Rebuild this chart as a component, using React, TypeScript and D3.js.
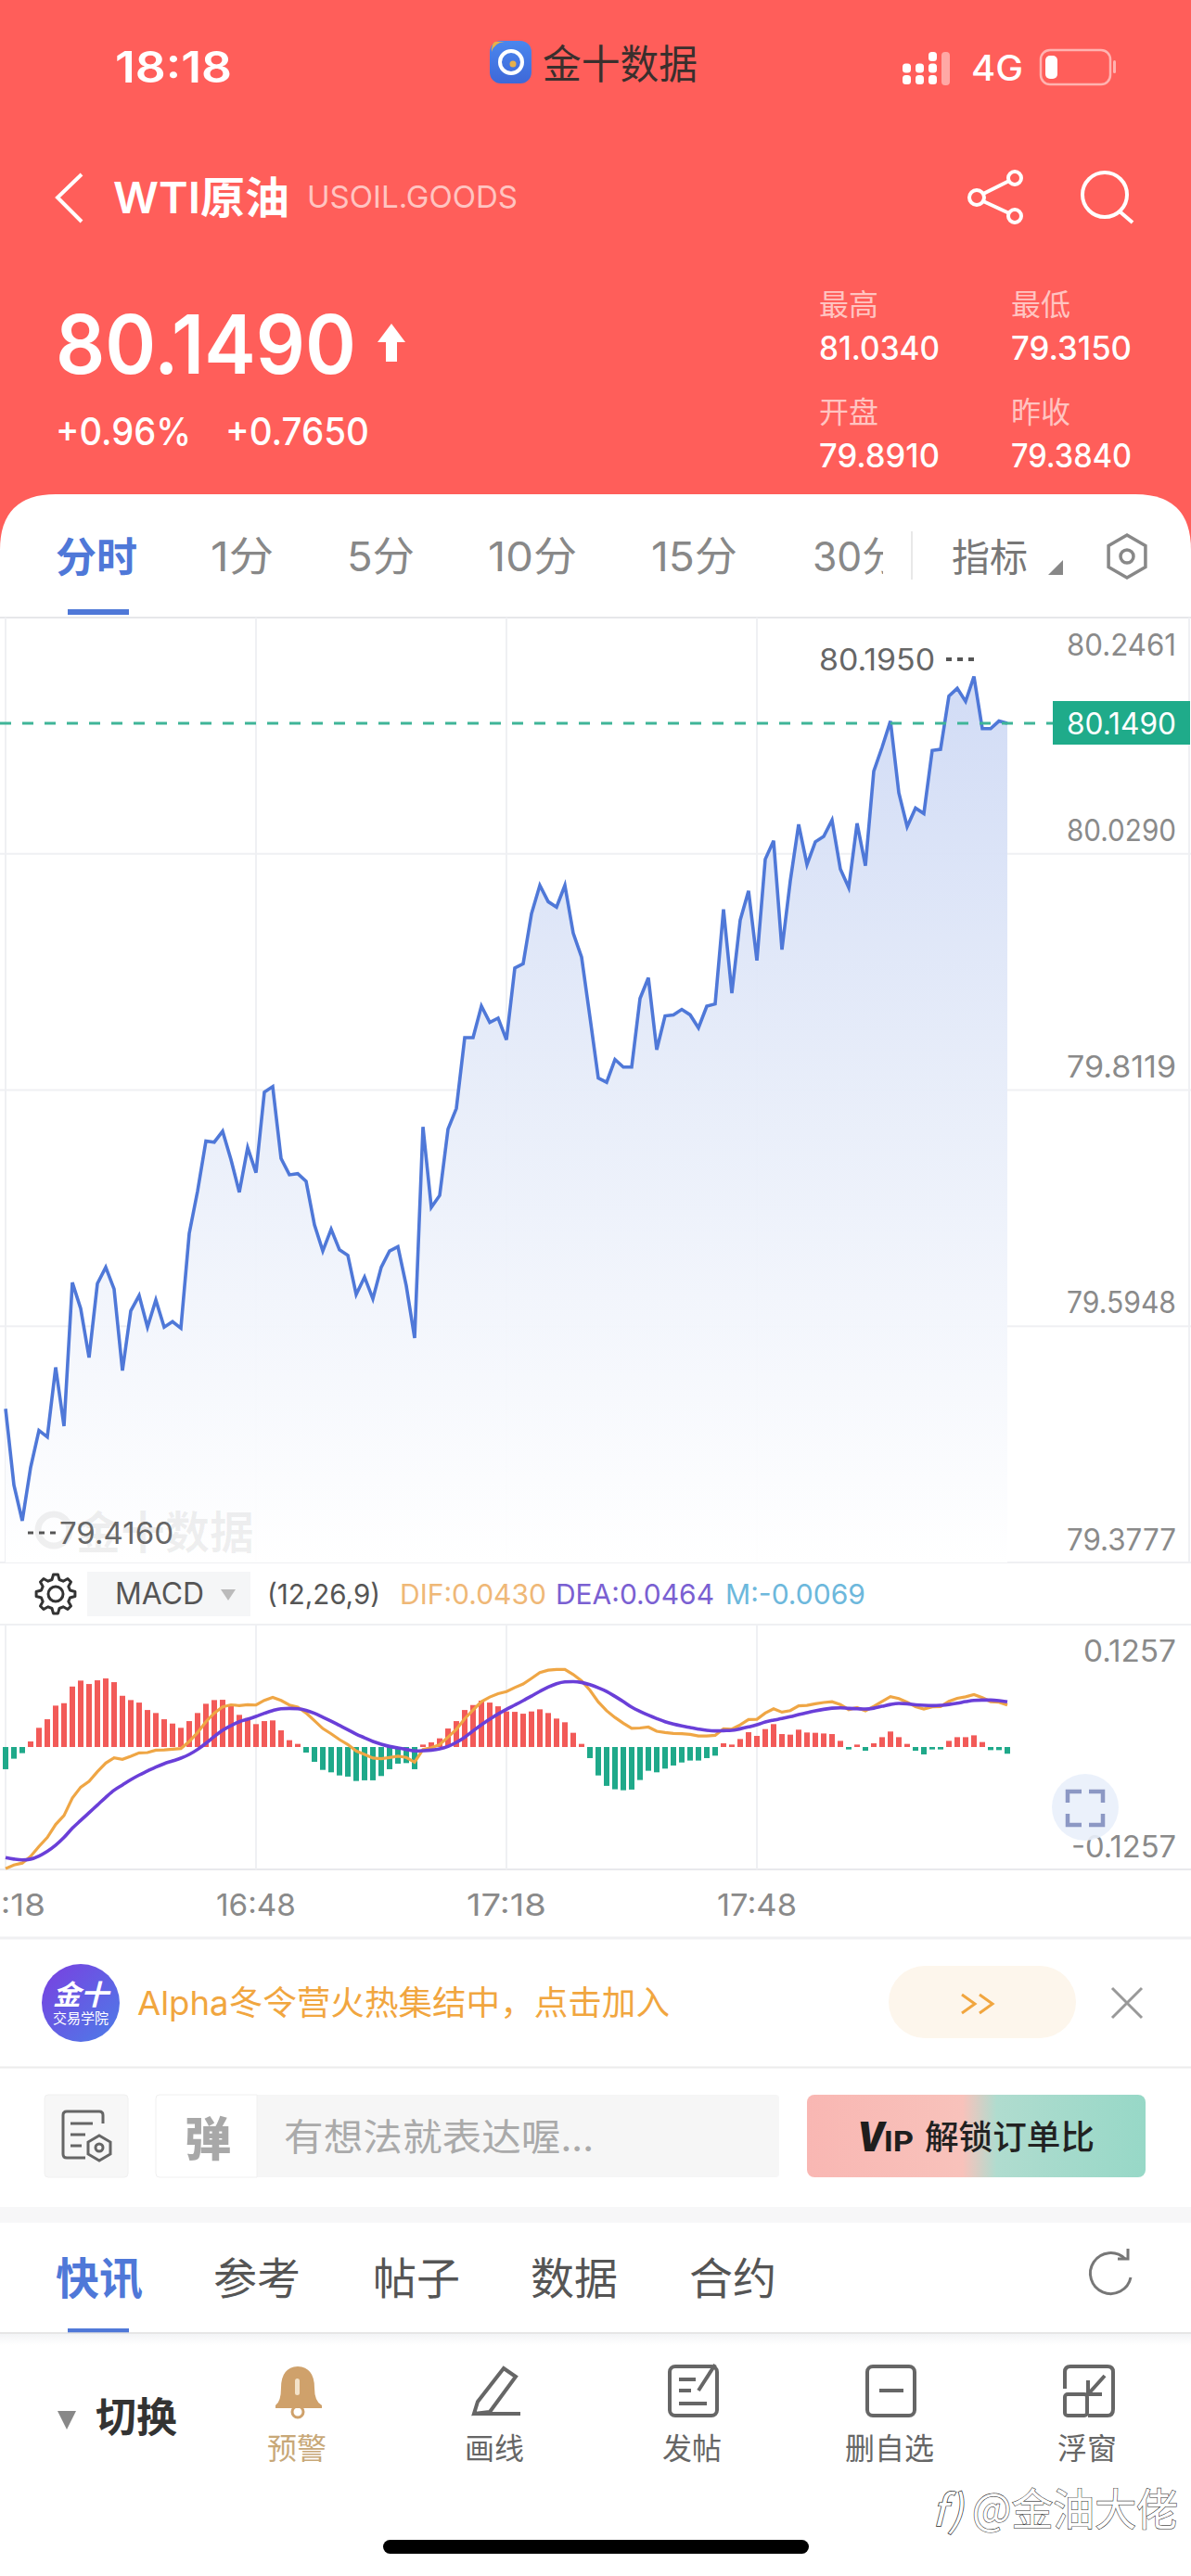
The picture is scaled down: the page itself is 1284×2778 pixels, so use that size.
import React from "react";
import * as d3 from "d3";

const priceTicks = [80.2461, 80.029, 79.8119, 79.5948, 79.3777];
const timeTicks = ["16:18", "16:48", "17:18", "17:48"];
const timeIdx = [0, 30, 60, 90];
const lastPrice = 80.149;
const highLabel = { i: 116, v: "80.1950" };
const lowLabel = { i: 2, v: "79.4160" };

const prices = [
  79.519, 79.449, 79.416, 79.465, 79.499, 79.493, 79.557, 79.503, 79.635, 79.611,
  79.566, 79.634, 79.649, 79.629, 79.554, 79.609, 79.623, 79.594, 79.619, 79.594,
  79.599, 79.593, 79.68, 79.719, 79.765, 79.764, 79.774, 79.748, 79.718, 79.759,
  79.736, 79.81, 79.815, 79.749, 79.734, 79.735, 79.728, 79.688, 79.664, 79.684,
  79.665, 79.66, 79.624, 79.64, 79.62, 79.649, 79.664, 79.668, 79.632, 79.584,
  79.778, 79.704, 79.715, 79.776, 79.795, 79.86, 79.86, 79.889, 79.874, 79.878,
  79.858, 79.924, 79.928, 79.974, 80.0, 79.985, 79.98, 80.0, 79.956, 79.934,
  79.879, 79.823, 79.819, 79.84, 79.833, 79.833, 79.896, 79.915, 79.849, 79.88,
  79.881, 79.886, 79.881, 79.869, 79.889, 79.891, 79.978, 79.901, 79.968, 79.995,
  79.931, 80.024, 80.041, 79.941, 80.004, 80.056, 80.019, 80.04, 80.045, 80.06,
  80.015, 79.998, 80.057, 80.018, 80.105, 80.127, 80.151, 80.085, 80.054, 80.071,
  80.066, 80.124, 80.125, 80.174, 80.181, 80.169, 80.192, 80.144, 80.144, 80.151,
  80.149,
];

const macd = [
  -0.0228, -0.012, -0.0063, 0.0057, 0.0197, 0.0285, 0.0425, 0.045, 0.0621, 0.0682,
  0.0647, 0.0685, 0.0704, 0.0666, 0.0526, 0.0482, 0.0456, 0.038, 0.0349, 0.0285,
  0.0241, 0.0197, 0.0266, 0.0349, 0.0444, 0.0482, 0.0485, 0.0428, 0.033, 0.0298,
  0.0235, 0.0266, 0.0273, 0.0171, 0.007, 0.0032, -0.0057, -0.0152, -0.0235, -0.026,
  -0.0292, -0.0304, -0.0349, -0.0342, -0.0342, -0.0298, -0.0228, -0.0171, -0.0165, -0.0228,
  0.0025, 0.0048, 0.0089, 0.019, 0.0266, 0.038, 0.0431, 0.0476, 0.0456, 0.0418,
  0.0365, 0.0361, 0.0342, 0.0365, 0.0387, 0.0349, 0.0292, 0.0254, 0.0146, 0.0032,
  -0.0114, -0.0292, -0.0399, -0.0434, -0.0444, -0.0437, -0.0339, -0.0244, -0.026, -0.0222,
  -0.019, -0.0159, -0.0139, -0.0139, -0.0114, -0.0089, 0.0038, 0.0025, 0.0082, 0.0152,
  0.0114, 0.0184, 0.0235, 0.0133, 0.0127, 0.0178, 0.0149, 0.0146, 0.0139, 0.0133,
  0.0063, -0.0025, 0.0025, -0.0038, 0.0038, 0.0101, 0.0159, 0.0101, 0.0032, -0.0038,
  -0.0076, -0.0025, -0.0025, 0.0063, 0.0101, 0.0101, 0.012, 0.0051, -0.0032, -0.0032,
  -0.0069,
];

const dea = [
  -0.1135, -0.1151, -0.116, -0.1151, -0.1119, -0.1071, -0.1008, -0.0929, -0.0834, -0.0754,
  -0.0675, -0.0596, -0.0517, -0.0444, -0.039, -0.0336, -0.0288, -0.0247, -0.0206, -0.0171,
  -0.0143, -0.0114, -0.0076, -0.0025, 0.0038, 0.0108, 0.0171, 0.0219, 0.026, 0.0285,
  0.0314, 0.0346, 0.0374, 0.0393, 0.0396, 0.0393, 0.0377, 0.0346, 0.0307, 0.0266,
  0.0222, 0.0178, 0.0133, 0.0095, 0.0057, 0.0029, 0.0006, -0.001, -0.0025, -0.0041,
  -0.0038, -0.0032, -0.0019, 0.0006, 0.0048, 0.0101, 0.0165, 0.0228, 0.0285, 0.0339,
  0.0387, 0.0431, 0.0476, 0.0523, 0.0571, 0.0615, 0.065, 0.0669, 0.0672, 0.0663,
  0.064, 0.0609, 0.0571, 0.052, 0.0466, 0.0409, 0.0365, 0.0327, 0.0292, 0.026,
  0.0235, 0.0216, 0.02, 0.0184, 0.0171, 0.0165, 0.0168, 0.0171, 0.0187, 0.0206,
  0.0228, 0.0257, 0.0276, 0.0292, 0.0311, 0.0333, 0.0352, 0.0371, 0.0387, 0.0399,
  0.0403, 0.0396, 0.0393, 0.039, 0.0399, 0.0418, 0.0437, 0.0447, 0.0444, 0.0434,
  0.0428, 0.0425, 0.0428, 0.0437, 0.045, 0.0466, 0.0479, 0.0482, 0.0482, 0.0476,
  0.0464,
];

const dif = [
  -0.1249, -0.1211, -0.1192, -0.1123, -0.1021, -0.0929, -0.0796, -0.0704, -0.0524, -0.0413,
  -0.0352, -0.0254, -0.0165, -0.0111, -0.0127, -0.0095, -0.006, -0.0057, -0.0032, -0.0029,
  -0.0023, -0.0016, 0.0057, 0.0149, 0.026, 0.0349, 0.0413, 0.0433, 0.0425, 0.0434,
  0.0431, 0.0479, 0.051, 0.0478, 0.0431, 0.0409, 0.0349, 0.027, 0.019, 0.0136,
  0.0076, 0.0026, -0.0041, -0.0076, -0.0114, -0.012, -0.0108, -0.0095, -0.0107, -0.0155,
  -0.0026, -0.0008, 0.0025, 0.0101, 0.0181, 0.0291, 0.038, 0.0466, 0.0513, 0.0548,
  0.0569, 0.0611, 0.0647, 0.0705, 0.0764, 0.0789, 0.0796, 0.0796, 0.0745, 0.0679,
  0.0583, 0.0463, 0.0372, 0.0303, 0.0244, 0.0191, 0.0195, 0.0205, 0.0162, 0.0149,
  0.014, 0.0136, 0.013, 0.0114, 0.0114, 0.012, 0.0187, 0.0183, 0.0228, 0.0282,
  0.0285, 0.0349, 0.0393, 0.0358, 0.0374, 0.0422, 0.0427, 0.0444, 0.0457, 0.0465,
  0.0435, 0.0384, 0.0405, 0.0371, 0.0418, 0.0468, 0.0517, 0.0497, 0.046, 0.0415,
  0.039, 0.0413, 0.0416, 0.0469, 0.05, 0.0516, 0.0539, 0.0507, 0.0466, 0.046,
  0.043,
];

const macdLimit = 0.1257;
const stats = [
  { label: "最高", value: "81.0340", col: 0, row: 0 },
  { label: "最低", value: "79.3150", col: 1, row: 0 },
  { label: "开盘", value: "79.8910", col: 0, row: 1 },
  { label: "昨收", value: "79.3840", col: 1, row: 1 },
];
const periodTabs = [
  { t: "1分", x: 227, w: 68 },
  { t: "5分", x: 374, w: 73 },
  { t: "10分", x: 526, w: 96 },
  { t: "15分", x: 702, w: 93 },
  { t: "30分", x: 876, w: 96 },
];
const newsTabs = [
  { t: "参考", x: 230 },
  { t: "帖子", x: 402 },
  { t: "数据", x: 572 },
  { t: "合约", x: 743 },
];
const signalColumns = [2, 2, 3];

const FONT = "Inter, 'Noto Sans CJK SC', sans-serif";
const CJK = "'Noto Sans CJK SC', sans-serif";
const RED = "#ff5e5a";
const BLUE = "#4f78d8";

function T(p: any) {
  const { x, y, s, c = "#333", w, wt = 400, a = "start", f = FONT, children, ...rest } = p;
  return (
    <text x={x} y={y} fontSize={s} fill={c} fontWeight={wt} textAnchor={a} fontFamily={f}
      dominantBaseline="central"
      {...(w ? { textLength: w, lengthAdjust: "spacingAndGlyphs" } : {})} {...rest}>
      {children}
    </text>
  );
}

function gearPath(cx: number, cy: number, r0: number, r1: number, n: number) {
  const pts: string[] = [];
  for (let i = 0; i < n; i++) {
    const a = (i / n) * Math.PI * 2 - Math.PI / 2;
    const d = (Math.PI / n) * 0.5;
    [[-d * 1.3, r0], [-d * 0.6, r1], [d * 0.6, r1], [d * 1.3, r0]].forEach(([da, r]) => {
      pts.push(`${(cx + r * Math.cos(a + da)).toFixed(1)},${(cy + r * Math.sin(a + da)).toFixed(1)}`);
    });
  }
  return "M" + pts.join("L") + "Z";
}

function hexPath(cx: number, cy: number, r: number) {
  const pts: string[] = [];
  for (let i = 0; i < 6; i++) {
    const a = (i / 6) * Math.PI * 2 - Math.PI / 2;
    pts.push(`${(cx + r * Math.cos(a)).toFixed(1)},${(cy + r * Math.sin(a)).toFixed(1)}`);
  }
  return "M" + pts.join("L") + "Z";
}

export default function App() {
  const x = d3.scaleLinear().domain([0, 120]).range([6, 1086]);
  const y = d3.scaleLinear().domain([priceTicks[4], priceTicks[0]]).range([1685, 666]);
  const m = d3.scaleLinear().domain([-macdLimit, macdLimit]).range([2016, 1752]);
  const line = d3.line<number>().x((_, i) => x(i)).y((d) => y(d));
  const area = d3.area<number>().x((_, i) => x(i)).y0(1685).y1((d) => y(d));
  const difLine = d3.line<number>().x((_, i) => x(i)).y((d) => m(d));
  const deaLine = d3.line<number>().x((_, i) => x(i)).y((d) => m(d)).curve(d3.curveMonotoneX);
  const vGrid = [...timeIdx.slice(1), 0].map((i) => x(i));
  const GREY = "#8a8a8a";
  const tickOffset = [29, -25, -25, -26, -25];
  const iconC = "#666";

  return (
    <svg width={1284} height={2778} viewBox="0 0 1284 2778"
      style={{ position: "absolute", left: 0, top: 0, display: "block" }}>
      <defs>
        <linearGradient id="areaG" x1="0" y1="0" x2="0" y2="1">
          <stop offset="0" stopColor="#cfdaf5" />
          <stop offset="0.45" stopColor="#e6ecf9" />
          <stop offset="1" stopColor="#ffffff" />
        </linearGradient>
        <linearGradient id="logoG" x1="0" y1="0" x2="0" y2="1">
          <stop offset="0" stopColor="#4a86ee" />
          <stop offset="1" stopColor="#3e68d8" />
        </linearGradient>
        <linearGradient id="acadG" x1="0" y1="0" x2="1" y2="1">
          <stop offset="0" stopColor="#7a3fe0" />
          <stop offset="1" stopColor="#4c7de8" />
        </linearGradient>
        <linearGradient id="vipG" x1="0" y1="0" x2="1" y2="0">
          <stop offset="0" stopColor="#f9b7b3" />
          <stop offset="0.46" stopColor="#f8c2bb" />
          <stop offset="0.56" stopColor="#b0dccf" />
          <stop offset="1" stopColor="#97d8c7" />
        </linearGradient>
        <linearGradient id="shadowG" x1="0" y1="0" x2="0" y2="1">
          <stop offset="0" stopColor="#f3f4f6" />
          <stop offset="1" stopColor="#ffffff" />
        </linearGradient>
        <clipPath id="tabClip"><rect x="0" y="540" width="952" height="120" /></clipPath>
        <clipPath id="wmClip"><rect x="0" y="1600" width="276" height="90" /></clipPath>
      </defs>
      <rect width="1284" height="2778" fill="#fff" />

      {/* Header */}
      <rect width="1284" height="600" fill={RED} />
      <path d="M0 593 Q0 533 60 533 H1224 Q1284 533 1284 593 V640 H0Z" fill="#fff" />
      <T x={124} y={72} s={46} c="#fff" wt={600} w={126}>18:18</T>
      <rect x={528} y={44} width={45} height={46} rx={12} fill="url(#logoG)" />
      <circle cx={551} cy={67} r={12} fill="none" stroke="#fff" strokeWidth={4} />
      <circle cx={553} cy={69} r={3.5} fill="#e6b04a" />
      <path d="M530 56 Q533 46 544 45 L534 45 Q530 46 530 56Z" fill="#e6b04a" />
      <T x={585} y={66} s={43} c="#3a2f2d" f={CJK} w={167}>金十数据</T>
      {signalColumns.map((n, i) =>
        d3.range(n).map((j) => (
          <rect key={`${i}-${j}`} x={973 + i * 14} y={81 - j * 12.5} width={9} height={10} rx={3.5} fill="#fff" />
        ))
      )}
      <rect x={1015} y={56} width={9} height={36} rx={4} fill="#ffa8a5" />
      <T x={1047} y={73} s={38} c="#fff" wt={500} w={56}>4G</T>
      <rect x={1122} y={54} width={75} height={37} rx={10} fill="none" stroke="#ffb3b0" strokeWidth={2.5} />
      <rect x={1127} y={60} width={13} height={25} rx={5} fill="#fff" />
      <rect x={1200} y={65} width={3} height={14} rx={1.5} fill="#ffb3b0" />

      <path d="M88 188 L62 213 L88 239" fill="none" stroke="#fff" strokeWidth={4} />
      <T x={122} y={212} s={47} c="#fff" wt={600} w={190}>WTI原油</T>
      <T x={331} y={212} s={33} c="#ffc4c1" w={227}>USOIL.GOODS</T>
      <g fill="none" stroke="#fff" strokeWidth={4}>
        <circle cx={1053} cy={213} r={8} />
        <circle cx={1094} cy={192} r={7} />
        <circle cx={1094} cy={233} r={7} />
        <path d="M1060 209 L1088 195 M1060 217 L1088 230" />
        <circle cx={1191} cy={210} r={24} />
        <path d="M1207 228 L1221 240" strokeWidth={4} />
      </g>

      <T x={60} y={371} s={88} c="#fff" wt={600} w={324}>80.1490</T>
      <path d="M422 349 L437 369 L428 369 L428 390 L416 390 L416 369 L407 369Z" fill="#fff" />
      <T x={60} y={465} s={41} c="#fff" wt={500} w={146}>+0.96%</T>
      <T x={243} y={465} s={41} c="#fff" wt={500} w={155}>+0.7650</T>
      {stats.map((d) => {
        const sx = 883 + d.col * 207;
        const sy = 326 + d.row * 116;
        return (
          <g key={d.label}>
            <T x={sx} y={sy} s={32} c="#ffc4c1" f={CJK}>{d.label}</T>
            <T x={sx} y={sy + 49} s={35} c="#fff" w={130} wt={500}>{d.value}</T>
          </g>
        );
      })}

      {/* Period tabs */}
      <T x={60} y={598} s={44} c={BLUE} wt={700} f={CJK}>分时</T>
      <rect x={73} y={657} width={66} height={6} fill={BLUE} />
      <g clipPath="url(#tabClip)">
        {periodTabs.map((d) => (
          <T key={d.t} x={d.x} y={600} s={44} c="#888" w={d.w}>{d.t}</T>
        ))}
      </g>
      <rect x={982} y={573} width={2} height={52} fill="#e8e8e8" />
      <T x={1026} y={598} s={41} c="#777" f={CJK}>指标</T>
      <path d="M1146 604 V620 H1130Z" fill="#888" />
      <path d={hexPath(1215, 600, 23)} fill="none" stroke="#888" strokeWidth={3.5} />
      <circle cx={1215} cy={600} r={7} fill="none" stroke="#888" strokeWidth={3.5} />

      {/* Main chart */}
      <g stroke="#eff0f3" strokeWidth={2}>
        <line x1={0} x2={1284} y1={666} y2={666} stroke="#e6e7ea" />
        {priceTicks.slice(1).map((p) => (
          <line key={p} x1={0} x2={1284} y1={y(p)} y2={y(p)} />
        ))}
        {vGrid.map((v) => (
          <line key={v} x1={v} x2={v} y1={666} y2={1685} />
        ))}
        <line x1={1282} x2={1282} y1={666} y2={1685} />
      </g>
      <path d={area(prices)!} fill="url(#areaG)" opacity={0.95} />
      <g clipPath="url(#wmClip)">
        <circle cx={58} cy={1650} r={17} fill="none" stroke="#000" strokeOpacity={0.06} strokeWidth={7} />
        <T x={82} y={1649} s={48} c="#000" fillOpacity={0.06} wt={700} f={CJK}>金十数据</T>
      </g>
      <path d={line(prices)!} fill="none" stroke={BLUE} strokeWidth={3.6} strokeLinejoin="miter" />
      <line x1={0} x2={1135} y1={y(lastPrice)} y2={y(lastPrice)} stroke="#3fb598" strokeWidth={3} strokeDasharray="12 12" />
      <T x={x(highLabel.i) - 42} y={711} s={32} c="#666" a="end" w={125}>{highLabel.v}</T>
      <path d={`M${x(highLabel.i) - 30} 711 H${x(highLabel.i)}`} stroke="#555" strokeWidth={4} strokeDasharray="6 6" />
      <path d={`M${x(lowLabel.i) + 6} 1653 H${x(lowLabel.i) + 36}`} stroke="#555" strokeWidth={3} strokeDasharray="6 6" />
      <T x={x(lowLabel.i) + 40} y={1653} s={32} c="#666" w={123}>{lowLabel.v}</T>
      {priceTicks.map((p, i) => (
        <T key={p} x={1268} y={y(p) + tickOffset[i]} s={32} c={GREY} a="end" w={118}>{p.toFixed(4)}</T>
      ))}
      <rect x={1135} y={756} width={148} height={47} fill="#1fab8a" />
      <T x={1209} y={780} s={32} c="#fff" a="middle" w={118}>{lastPrice.toFixed(4)}</T>

      {/* MACD toolbar */}
      <path d={gearPath(60, 1719, 16, 21, 8)} fill="none" stroke="#333" strokeWidth={3} strokeLinejoin="round" />
      <circle cx={60} cy={1719} r={8} fill="none" stroke="#333" strokeWidth={3} />
      <rect x={94} y={1695} width={176} height={48} fill="#f5f6f7" />
      <T x={124} y={1718} s={32} c="#555" w={96}>MACD</T>
      <path d="M238 1714 H254 L246 1726Z" fill="#bbb" />
      <T x={288} y={1719} s={30} c="#555" w={122}>(12,26,9)</T>
      <T x={431} y={1719} s={30} c="#efb877" w={158}>DIF:0.0430</T>
      <T x={599} y={1719} s={30} c="#7a60d2" w={171}>DEA:0.0464</T>
      <T x={782} y={1719} s={30} c="#6db8dc" w={151}>M:-0.0069</T>

      {/* MACD panel */}
      <g stroke="#eff0f3" strokeWidth={2}>
        <line x1={0} x2={1284} y1={m(macdLimit)} y2={m(macdLimit)} />
        <line x1={0} x2={1284} y1={m(-macdLimit)} y2={m(-macdLimit)} stroke="#e8e9ec" />
        {vGrid.map((v) => (
          <line key={v} x1={v} x2={v} y1={m(macdLimit)} y2={m(-macdLimit)} />
        ))}
      </g>
      {macd.map((v, i) => (
        <rect key={i} x={x(i) - 3} width={6}
          y={Math.min(m(v), m(0))} height={Math.abs(m(v) - m(0))}
          fill={v >= 0 ? "#f25a58" : "#1fa98a"} />
      ))}
      <path d={difLine(dif)!} fill="none" stroke="#efa645" strokeWidth={3.2} />
      <path d={deaLine(dea)!} fill="none" stroke="#6a3fd8" strokeWidth={3.6} />
      <T x={1268} y={1780} s={32} c={GREY} a="end" w={100}>{macdLimit.toFixed(4)}</T>
      <T x={1268} y={1991} s={32} c={GREY} a="end" w={113}>{(-macdLimit).toFixed(4)}</T>
      <ellipse cx={1170} cy={1949} rx={36} ry={36} fill="#e9f0fb" opacity={0.9} />
      <path d="M1151 1944 V1932 H1166 M1174 1932 H1189 V1944 M1151 1956 V1968 H1166 M1174 1968 H1189 V1956"
        fill="none" stroke="#8c98c4" strokeWidth={4.5} />
      {timeTicks.map((t, i) => (
        <T key={t} x={x(timeIdx[i])} y={2054} s={33} c={GREY} a="middle" w={86}>{t}</T>
      ))}
      <line x1={0} x2={1284} y1={2090} y2={2090} stroke="#f0f0f2" strokeWidth={3} />

      {/* Banner */}
      <circle cx={87} cy={2160} r={42} fill="url(#acadG)" />
      <T x={87} y={2149} s={30} c="#fff" a="middle" wt={700} f={CJK} fontStyle="italic">金十</T>
      <T x={87} y={2175} s={15} c="#fff" a="middle" f={CJK}>交易学院</T>
      <T x={148} y={2160} s={36} c="#f1a63f" w={574}>Alpha冬令营火热集结中，点击加入</T>
      <rect x={958} y={2120} width={202} height={78} rx={39} fill="#fdf6ec" />
      <path d="M1037 2151 L1051 2161 L1037 2171 M1056 2151 L1070 2161 L1056 2171" fill="none" stroke="#f1a63f" strokeWidth={3} />
      <path d="M1199 2144 L1231 2176 M1231 2144 L1199 2176" stroke="#999" strokeWidth={3} />
      <line x1={0} x2={1284} y1={2229.5} y2={2229.5} stroke="#ececec" strokeWidth={2} />

      {/* Input row */}
      <rect x={48} y={2259} width={90} height={89} rx={4} fill="#f7f7f7" stroke="#f0f0f0" />
      <g fill="none" stroke="#666" strokeWidth={3}>
        <path d="M111 2290 V2281 Q111 2277 107 2277 H72 Q68 2277 68 2281 V2323 Q68 2327 72 2327 H92" />
        <path d="M76 2290 H100 M76 2302 H92 M76 2314 H88" />
        <path d="M107 2303 L119 2310 V2323 L107 2330 L95 2323 V2310Z" />
        <circle cx={107} cy={2316} r={4} />
      </g>
      <rect x={168} y={2259} width={672} height={89} rx={4} fill="#f6f6f6" />
      <path d="M172 2259 H277 V2348 H172 Q168 2348 168 2344 V2263 Q168 2259 172 2259Z" fill="#fff" stroke="#f0f0f0" />
      <T x={224} y={2303} s={50} c="#a8a8a8" a="middle" wt={900} f={CJK}>弹</T>
      <T x={306} y={2302} s={40} c="#aaa" f={CJK} w={334}>有想法就表达喔...</T>
      <rect x={870} y={2259} width={365} height={89} rx={8} fill="url(#vipG)" />
      <T x={924} y={2304} s={44} c="#1e1e1e" wt={900} fontStyle="italic" w={30}>V</T>
      <T x={953} y={2309} s={30} c="#1e1e1e" wt={700} w={32}>IP</T>
      <T x={997} y={2302} s={36} c="#222" f={CJK} w={183} wt={500}>解锁订单比</T>
      <rect x={0} y={2380} width={1284} height={17} fill="#f7f7f8" />

      {/* News tabs */}
      <T x={60} y={2453} s={47} c={BLUE} wt={700} f={CJK}>快讯</T>
      <rect x={73} y={2511} width={66} height={5} fill={BLUE} />
      {newsTabs.map((d) => (
        <T key={d.t} x={d.x} y={2453} s={47} c="#555" f={CJK}>{d.t}</T>
      ))}
      <path d="M1213 2436 A22 22 0 1 0 1219 2456" fill="none" stroke="#777" strokeWidth={3} />
      <path d="M1205 2436 H1216 V2425" fill="none" stroke="#777" strokeWidth={3} />
      <line x1={0} x2={1284} y1={2516} y2={2516} stroke="#dedede" strokeWidth={1.5} />
      <rect x={0} y={2517} width={1284} height={12} fill="url(#shadowG)" />

      {/* Bottom bar */}
      <path d="M62 2600 H82 L72 2620Z" fill="#888" />
      <T x={103} y={2604} s={44} c="#333" wt={700} f={CJK}>切换</T>
      <path d="M297 2594 Q303 2590 303 2575 Q303 2553 321 2552 Q339 2553 339 2575 Q339 2590 347 2594 V2597 H297Z" fill="#cfa16b" />
      <circle cx={321} cy={2601} r={6} fill="none" stroke="#cfa16b" strokeWidth={3} />
      <rect x={318} y={2565} width={5} height={18} rx={2.5} fill="#f3e2c9" />
      <T x={320} y={2638} s={32} c="#c8a878" a="middle" f={CJK}>预警</T>

      <g fill="none" stroke="#666" strokeWidth={4}>
        <path d="M515 2590 L543 2554 L556 2563 L528 2601 L511 2603Z" />
        <path d="M510 2603 H561" />
        <rect x={722} y={2552} width={51} height={53} rx={6} />
        <path d="M732 2566 H750 M732 2578 H745 M732 2592 H762 M753 2578 L771 2550" />
        <rect x={935} y={2552} width={51} height={53} rx={6} />
        <path d="M948 2578 H974" />
        <path d="M1148 2576 V2558 Q1148 2552 1154 2552 H1194 Q1200 2552 1200 2558 V2598 Q1200 2605 1194 2605 H1173" />
        <rect x={1148} y={2582} width={24} height={23} rx={3} />
        <path d="M1191 2562 L1173 2582 M1173 2567 V2582 H1188" />
      </g>
      <T x={533} y={2638} s={32} c={iconC} a="middle" f={CJK}>画线</T>
      <T x={746} y={2638} s={32} c={iconC} a="middle" f={CJK}>发帖</T>
      <T x={959} y={2638} s={32} c={iconC} a="middle" f={CJK}>删自选</T>
      <T x={1172} y={2638} s={32} c={iconC} a="middle" f={CJK}>浮窗</T>

      {/* Watermark */}
      <T x={1005} y={2704} s={46} c="#fff" stroke="#222" strokeWidth={1.4} paintOrder="stroke" fontStyle="italic" f={CJK}>f)</T>
      <T x={1048} y={2702} s={47} c="#fff" stroke="#333" strokeWidth={1.2} paintOrder="stroke" f={CJK} w={222}>@金油大佬</T>
      <rect x={413} y={2739} width={459} height={15} rx={7.5} fill="#000" />
    </svg>
  );
}
